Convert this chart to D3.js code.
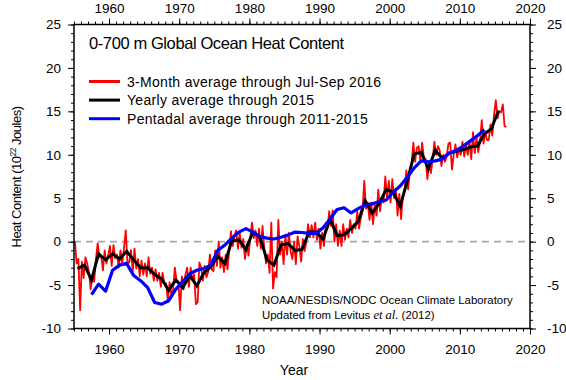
<!DOCTYPE html>
<html><head><meta charset="utf-8">
<script src="https://cdn.jsdelivr.net/npm/d3@7"></script>
<style>
html,body{margin:0;padding:0;background:#fff;}
svg{display:block;font-family:"Liberation Sans",Arial,Helvetica,sans-serif;}
</style></head>
<body>
<svg id="chart" width="566" height="380"></svg>
<script>
// ---- data (10^22 Joules) ----
const yearlyYears = d3.range(1955, 2016); // 1955..2015, plotted at mid-year
const yearlyValues = [
  -3.1,-2.7,-4.4,-1.4,-2.1,-1.4,-2.0,-1.1,-2.1,-3.0,
  -3.0,-3.8,-4.3,-5.6,-4.4,-5.3,-3.9,-5.1,-3.6,-2.9,
  -1.7,-2.5, 0.1, 0.2,-0.9, 1.1, 0.5,-2.1,-2.7,-0.4,
  -0.2,-1.0,-0.9, 1.1, 1.1, 0.3, 2.6, 0.7, 0.8, 1.5,
   2.3, 4.7, 3.3, 4.4, 6.0, 5.7, 4.1, 7.0,10.1,10.3,
   8.4,10.5, 9.6,10.2,10.4,10.6,10.9,11.0,12.4,13.0,
  15.1
];
const pentadCenters = d3.range(1957, 2014); // 1955-59 .. 2011-15, plotted at mid-pentad
const pentadValues = [
  -6.1,-4.9,-5.7,-3.3,-2.7,-2.5,-3.9,-4.5,-5.3,-7.0,
  -7.2,-6.8,-5.5,-4.6,-3.7,-3.3,-3.1,-2.7,-1.0,-0.4,
   0.4, 1.1, 1.5, 1.1, 0.6, 0.4, 0.3, 0.5, 0.75,1.1,
   1.05,0.95,0.95,1.6, 2.6, 3.7, 3.9, 3.3, 3.8, 4.2,
   4.35,4.6, 4.8, 5.7, 6.4, 7.4, 8.5, 9.3, 9.2, 9.3,
   9.5,10.2,10.5,11.0,11.6,12.2,12.9
];
// 3-month averages, Jan-Mar 1955 .. Jul-Sep 2016
const seasonalStart = 1955;
const seasonalValues = [
   0.0,-2.5,-2.0,-7.9,  -2.3,-4.2,-1.8,-2.5,  -3.5,-5.5,-4.0,-4.6,  -2.0,-0.2,-1.8,-1.6,
  -3.3,-1.0,-2.5,-1.6,  -0.5,-2.8,-0.4,-1.9,  -1.5,-3.0,-1.0,-2.5,  -0.8, 1.3,-2.5,-2.4,
  -1.0,-3.5,-0.8,-3.1,  -2.0,-4.0,-2.2,-3.8,  -2.5,-4.0,-1.8,-3.7,  -3.0,-4.5,-3.2,-4.5,
  -3.6,-5.2,-3.6,-4.8,  -4.8,-6.8,-4.7,-6.1,  -5.5,-3.0,-4.5,-4.6,  -7.9,-4.0,-5.5,-3.8,
  -3.0,-5.2,-3.0,-4.4,  -3.8,-7.2,-7.0,-2.4,  -3.0,-4.5,-2.8,-4.1,  -3.5,-1.5,-3.2,-3.4,
  -1.0,-2.8, 0.0,-3.0,  -1.8,-3.5,-1.5,-3.2,  -1.0, 1.2,-0.5, 0.7,   1.3,-0.8, 1.0,-0.7,
   0.3,-2.0,-0.3,-1.6,   0.5, 2.2, 0.4, 1.3,  -0.5, 1.5,-0.8, 1.8,  -0.8,-2.5,-1.5,-3.6,
   2.2,-5.4,-3.5,-4.1,   2.5,-1.5, 0.0,-2.6,   0.8,-1.5, 1.0,-1.1,  -2.0, 0.0,-2.6, 0.6,
  -0.5,-2.3, 0.3,-1.1,   0.0, 2.0, 0.5, 1.9,   0.5, 2.2, 0.2, 1.5,  -0.8, 1.0,-0.5, 1.5,
   1.5, 3.5, 1.8, 3.6,   0.0, 2.0,-0.5, 1.3,  -0.5, 2.0, 0.2, 1.5,   0.5, 2.5, 1.0, 2.0,
   1.5, 3.5, 1.5, 2.7,   3.5, 7.0, 3.8, 4.5,   2.5, 4.5, 2.0, 4.2,   3.0, 6.0, 3.5, 5.1,
   4.5, 7.5, 5.0, 7.0,   4.5, 7.2, 5.0, 6.1,   3.0, 5.5, 2.6, 5.3,   5.8, 8.2, 6.0, 8.0,
   9.0,11.4, 9.2,10.8,  11.0, 9.2,11.4, 9.6,   9.5, 7.2, 9.0, 7.9,   9.5,11.5,10.0,11.0,
  10.5, 8.7,10.0, 9.2,   9.8,11.3,11.4, 8.3,  10.0,11.2, 9.7,10.7,  10.0,11.5, 9.8,11.1,
  10.0,11.5, 9.5,12.6,  10.2,12.0,10.3,11.5,  14.0,11.3,12.6,11.7,  11.7,13.5,12.2,14.6,
  16.3,14.2,15.0,14.9,  15.8,13.3,13.2
];
const xTicksMajor = [1960,1970,1980,1990,2000,2010,2020];
const yTicksMajor = [-10,-5,0,5,10,15,20,25];
const legendLabels = ["3-Month average through Jul-Sep 2016","Yearly average through 2015","Pentadal average through 2011-2015"];
const legendColors = ["#ff0000","#000000","#0000ff"];
const titleText = "0-700 m Global Ocean Heat Content";

// ---- layout ----
const L = 74, R = 530, T = 24.5, B = 328.5;
const svg = d3.select("#chart");
const x = d3.scaleLinear().domain([1955, 2020]).range([L, R]);
const y = d3.scaleLinear().domain([-10, 25]).range([B, T]);
const fontSize = 13.5;

// zero line
svg.append("line").attr("x1", L).attr("x2", R).attr("y1", y(0)).attr("y2", y(0))
  .attr("stroke", "#a8a8a8").attr("stroke-width", 1.6).attr("stroke-dasharray", "7,5");

// series
const seasonal = seasonalValues.map((v, i) => [seasonalStart + i * 0.25 + 0.125, v]);
const yearly = yearlyValues.map((v, i) => [yearlyYears[i] + 0.5, v]);
const pentad = pentadValues.map((v, i) => [pentadCenters[i] + 0.5, v]);
const line = d3.line().x(d => x(d[0])).y(d => y(d[1]));
svg.append("path").datum(seasonal).attr("d", line).attr("fill", "none")
  .attr("stroke", legendColors[0]).attr("stroke-width", 1.8).attr("stroke-linejoin", "round");
svg.append("path").datum(yearly).attr("d", line).attr("fill", "none")
  .attr("stroke", legendColors[1]).attr("stroke-width", 3).attr("stroke-linejoin", "miter");
svg.append("path").datum(pentad).attr("d", line).attr("fill", "none")
  .attr("stroke", legendColors[2]).attr("stroke-width", 3.2).attr("stroke-linejoin", "round");

// axes
function styleAxis(g) {
  g.select(".domain").remove();
  g.selectAll("line").attr("stroke", "#000").attr("stroke-width", 1);
  g.selectAll("text").attr("font-size", fontSize).attr("fill", "#000")
   .attr("font-family", "'Liberation Sans',Arial,Helvetica,sans-serif");
}
const yearsAll = d3.range(1955, 2021);
const unitsAll = d3.range(-10, 26);
const fmt = d => String(d);
// minor
svg.append("g").attr("transform", `translate(0,${B})`)
  .call(d3.axisBottom(x).tickValues(yearsAll).tickSize(3).tickFormat("")).call(styleAxis);
svg.append("g").attr("transform", `translate(0,${T})`)
  .call(d3.axisTop(x).tickValues(yearsAll).tickSize(3).tickFormat("")).call(styleAxis);
svg.append("g").attr("transform", `translate(${L},0)`)
  .call(d3.axisLeft(y).tickValues(unitsAll).tickSize(3).tickFormat("")).call(styleAxis);
svg.append("g").attr("transform", `translate(${R},0)`)
  .call(d3.axisRight(y).tickValues(unitsAll).tickSize(3).tickFormat("")).call(styleAxis);
// major
svg.append("g").attr("transform", `translate(0,${B})`)
  .call(d3.axisBottom(x).tickValues(xTicksMajor).tickSize(6).tickPadding(10).tickFormat(fmt)).call(styleAxis);
svg.append("g").attr("transform", `translate(0,${T})`)
  .call(d3.axisTop(x).tickValues(xTicksMajor).tickSize(6).tickPadding(5.5).tickFormat(fmt)).call(styleAxis);
svg.append("g").attr("transform", `translate(${L},0)`)
  .call(d3.axisLeft(y).tickValues(yTicksMajor).tickSize(6).tickPadding(7).tickFormat(fmt)).call(styleAxis);
svg.append("g").attr("transform", `translate(${R},0)`)
  .call(d3.axisRight(y).tickValues(yTicksMajor).tickSize(6).tickPadding(11).tickFormat(fmt)).call(styleAxis);

// frame
svg.append("rect").attr("x", L).attr("y", T).attr("width", R - L).attr("height", B - T)
  .attr("fill", "none").attr("stroke", "#000").attr("stroke-width", 1.5);

// title
svg.append("text").attr("x", 89).attr("y", 49).attr("font-size", 16.5)
  .attr("letter-spacing", -0.4).text(titleText);

// legend
legendLabels.forEach((lab, i) => {
  const ly = 81.5 + i * 18.6;
  svg.append("line").attr("x1", 89).attr("x2", 120).attr("y1", ly).attr("y2", ly)
    .attr("stroke", legendColors[i]).attr("stroke-width", 3);
  svg.append("text").attr("x", 127).attr("y", ly + 5).attr("font-size", 14)
    .attr("letter-spacing", 0.3).text(lab);
});

// credits
svg.append("text").attr("x", 262).attr("y", 304).attr("font-size", 11.4)
  .text("NOAA/NESDIS/NODC Ocean Climate Laboratory");
const cr = svg.append("text").attr("x", 262).attr("y", 318.5).attr("font-size", 11.4);
cr.append("tspan").text("Updated from Levitus ");
cr.append("tspan").attr("font-style", "italic").attr("font-family", "'Liberation Serif','Times New Roman',serif")
  .attr("font-size", 12.5).text("et al.");
cr.append("tspan").text(" (2012)");

// axis titles
svg.append("text").attr("x", 294).attr("y", 375).attr("text-anchor", "middle").attr("font-size", 14).text("Year");
const yt = svg.append("text").attr("transform", "translate(21,177) rotate(-90)")
  .attr("text-anchor", "middle").attr("font-size", 13).attr("letter-spacing", -0.5);
yt.append("tspan").text("Heat Content (10");
yt.append("tspan").attr("font-size", 8.5).attr("dy", -5).text("22");
yt.append("tspan").attr("dy", 5).text(" Joules)");
</script>
</body></html>
